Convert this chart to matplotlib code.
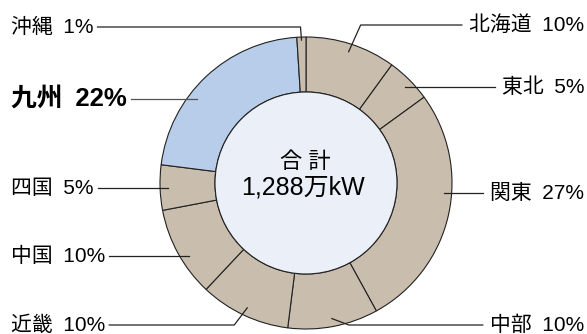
import matplotlib
matplotlib.use('Agg')
import matplotlib.pyplot as plt
import numpy as np

# latin glyphs from Liberation Sans, kanji fall back to Noto CJK
plt.rcParams['font.family'] = ['Liberation Sans', 'Noto Sans CJK JP']

# data
regions = ['北海道', '東北', '関東', '中部', '近畿', '中国', '四国', '九州', '沖縄']
shares = [10, 5, 27, 10, 10, 10, 5, 22, 1]
highlight = '九州'
total_label = ['合 計', '1,288万kW']

# label layout (pixel coords, y from top): side, label y, leader style
label_side = ['R', 'R', 'R', 'R', 'L', 'L', 'L', 'L', 'L']
label_y = [25, 87, 193, 325, 325, 256, 188, 99, 27]
elbow_dx = [12, None, None, 17, -13, None, None, None, -1]

W, H = 587, 334
cx, cy = 306, 183
R_out, R_in = 146, 91
R_lead = 138

tan = '#c9bdad'
blue = '#b8cde9'
center_col = '#eaeff8'
line_col = '#222222'

fig = plt.figure(figsize=(W / 100, H / 100), dpi=100)
ax = fig.add_axes([0, 0, 1, 1])
ax.axis('off')

colors = [blue if r == highlight else tan for r in regions]
wedges, _ = ax.pie(shares, colors=colors, startangle=90, counterclock=False,
                   center=(cx, H - cy), radius=R_out,
                   wedgeprops=dict(width=R_out - R_in, edgecolor=line_col, linewidth=0.8))
ax.add_patch(plt.Circle((cx, H - cy), R_in, facecolor=center_col,
                        edgecolor=line_col, linewidth=0.8, zorder=3))
ax.set_xlim(0, W)
ax.set_ylim(0, H)
ax.set_aspect('equal')

ax.text(305, H - 163, total_label[0], ha='center', va='center', fontsize=16, zorder=4)
ax.text(303, H - 187, total_label[1], ha='center', va='center', fontsize=18, zorder=4)

fig.canvas.draw()
renderer = fig.canvas.get_renderer()
inv = ax.transData.inverted()

cum = np.cumsum([0] + shares[:-1])
for i, (name, pct) in enumerate(zip(regions, shares)):
    side = label_side[i]
    ly = H - label_y[i]
    big = name == highlight
    fs = 18.5 if big else 15
    fw = 'bold' if big else 'normal'
    label = f'{name}\u2002{pct}%'
    if side == 'L':
        t = ax.text(11, ly, label, ha='left', va='center', fontsize=fs, fontweight=fw)
    else:
        t = ax.text(584, ly, label, ha='right', va='center', fontsize=fs, fontweight=fw)
    bb = t.get_window_extent(renderer).transformed(inv)
    x_text = bb.x1 + 4 if side == 'L' else bb.x0 - 7
    mid = np.deg2rad(90 - (cum[i] + pct / 2) * 3.6)
    if elbow_dx[i] is None:
        dy = ly - (H - cy)
        dx = np.sqrt(R_lead ** 2 - dy ** 2)
        x_end = cx - dx if side == 'L' else cx + dx
        xs, ys = [x_text, x_end], [ly, ly]
    else:
        r = R_lead + (5 if pct < 2 else 0)
        ex = cx + r * np.cos(mid)
        ey = (H - cy) + r * np.sin(mid)
        xs = [x_text, ex + elbow_dx[i], ex]
        ys = [ly, ly, ey]
    ax.plot(xs, ys, color='#555555' if big else line_col, linewidth=0.9, zorder=5)

fig.savefig('out.png', dpi=100)
